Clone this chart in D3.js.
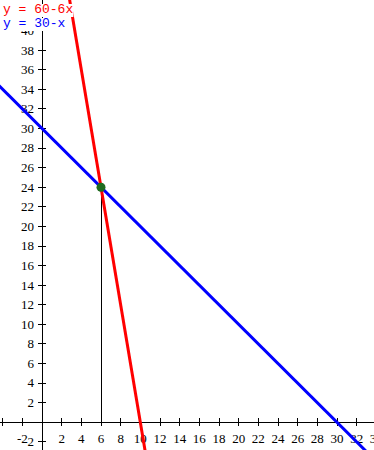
<!DOCTYPE html>
<html>
<head>
<meta charset="utf-8">
<script src="https://cdn.jsdelivr.net/npm/d3@7"></script>
<style>
  body { margin: 0; background: #fff; }
  svg { display: block; }
</style>
</head>
<body>
<svg id="chart"></svg>
<script>
// lines as endpoint pairs (x, y), long enough to run off the plot
const redX = [2.5, 10.6];
const redY = [45, -3.6];
const blueX = [-5, 35];
const blueY = [35, -5];
const labels = ["y = 60-6x", "y = 30-x"];
const intersection = { x: 6, y: 24 };
const xTicks = [-4, -2, 2, 4, 6, 8, 10, 12, 14, 16, 18, 20, 22, 24, 26, 28, 30, 32, 34];
const yTicks = [-2, 2, 4, 6, 8, 10, 12, 14, 16, 18, 20, 22, 24, 26, 28, 30, 32, 34, 36, 38, 40];

const width = 374;
const height = 450;

const x = d3.scaleLinear().domain([0, 30]).range([42, 337]);
const y = d3.scaleLinear().domain([0, 24]).range([422.3, 187.3]);

const svg = d3.select("#chart").attr("width", width).attr("height", height);

svg.append("clipPath").attr("id", "plot")
  .append("rect").attr("width", width).attr("height", height);

// axes
svg.append("line")
  .attr("x1", 0).attr("x2", width)
  .attr("y1", y(0)).attr("y2", y(0))
  .attr("stroke", "#000").attr("shape-rendering", "crispEdges");
svg.append("line")
  .attr("x1", x(0)).attr("x2", x(0))
  .attr("y1", 0).attr("y2", height)
  .attr("stroke", "#000").attr("shape-rendering", "crispEdges");

const xt = svg.append("g").selectAll("g").data(xTicks).join("g")
  .attr("transform", d => `translate(${x(d)},${y(0)})`);
xt.append("line").attr("y1", -4).attr("y2", 4)
  .attr("stroke", "#000").attr("shape-rendering", "crispEdges");
xt.filter(d => d !== -4).append("text")
  .attr("y", 21)
  .attr("text-anchor", "middle")
  .attr("font-family", "Liberation Serif, serif")
  .attr("font-size", 13)
  .text(d => d);

const yt = svg.append("g").selectAll("g").data(yTicks).join("g")
  .attr("transform", d => `translate(${x(0)},${y(d)})`);
yt.append("line").attr("x1", -4).attr("x2", 4)
  .attr("stroke", "#000").attr("shape-rendering", "crispEdges");
yt.append("text")
  .attr("x", -8).attr("dy", "0.33em")
  .attr("text-anchor", "end")
  .attr("font-family", "Liberation Serif, serif")
  .attr("font-size", 13)
  .text(d => d);

// vertical drop line from intersection
svg.append("line")
  .attr("x1", x(intersection.x)).attr("x2", x(intersection.x))
  .attr("y1", y(intersection.y)).attr("y2", y(0))
  .attr("stroke", "#000").attr("shape-rendering", "crispEdges");

const line = d3.line().x(d => x(d[0])).y(d => y(d[1]));

svg.append("path")
  .attr("d", line(d3.zip(blueX, blueY)))
  .attr("fill", "none").attr("stroke", "#0000ff").attr("stroke-width", 3)
  .attr("clip-path", "url(#plot)");

svg.append("path")
  .attr("d", line(d3.zip(redX, redY)))
  .attr("fill", "none").attr("stroke", "#ff0000").attr("stroke-width", 3)
  .attr("clip-path", "url(#plot)");

svg.append("circle")
  .attr("cx", x(intersection.x)).attr("cy", y(intersection.y))
  .attr("r", 4.5).attr("fill", "#1f6b1f");

// legend labels with white backing
const colors = ["#ff0000", "#0000ff"];
const leg = svg.append("g").selectAll("g").data(labels).join("g")
  .attr("transform", (d, i) => `translate(3,${13 + i * 14})`);
leg.append("text")
  .attr("font-family", "Liberation Mono, monospace")
  .attr("font-size", 13)
  .attr("fill", (d, i) => colors[i])
  .text(d => d)
  .each(function () {
    const b = this.getBBox();
    d3.select(this.parentNode).insert("rect", "text")
      .attr("x", b.x).attr("y", b.y + 2)
      .attr("width", b.width).attr("height", b.height - 2)
      .attr("fill", "#fff");
  });
</script>
</body>
</html>
